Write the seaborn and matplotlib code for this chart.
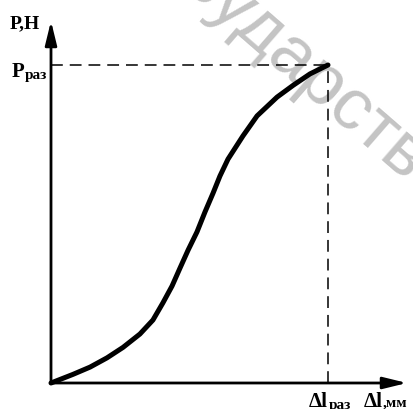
import matplotlib
matplotlib.use("Agg")
import matplotlib.pyplot as plt
import seaborn as sns

# Load–elongation curve up to rupture (normalised: rupture point at 1, 1)
elongation = [0.0, 0.079, 0.141, 0.202, 0.260, 0.321, 0.368, 0.404, 0.437,
              0.466, 0.495, 0.527, 0.556, 0.585, 0.610, 0.639, 0.693, 0.744,
              0.816, 0.874, 0.935, 1.0]
load = [0.0, 0.027, 0.050, 0.079, 0.112, 0.154, 0.198, 0.252, 0.305,
        0.362, 0.418, 0.475, 0.538, 0.597, 0.651, 0.704, 0.777, 0.840,
        0.899, 0.936, 0.972, 1.0]

rupture_x = 1.0
rupture_y = 1.0

y_label = "P,Н"
rupture_load_label = ("P", "раз")
rupture_elong_label = ("Δl", "раз")
x_label = ("Δl", ",мм")
watermark = "Государственный"

sns.set_style("white")
plt.rcParams["font.family"] = ["Liberation Serif", "DejaVu Serif"]
plt.rcParams["lines.scale_dashes"] = False

W, H = 414, 410
fig = plt.figure(figsize=(W / 100, H / 100), dpi=100)
ax = fig.add_axes([0, 0, 1, 1])

# pixel geometry of the frame
ox, oy = 51, 384          # origin
sx, sy = 277, 318         # pixels per unit
ax.set_xlim(-ox / sx, (W - ox) / sx)
ax.set_ylim((oy - H) / sy, oy / sy)
ax.axis("off")


def px(x, y):
    """Pixel position (from top-left) to data coordinates."""
    return (x - ox) / sx, (oy - y) / sy


# watermark
ax.text(*px(356, 117), watermark, fontsize=52, color="#c4c4c4",
        family=["Liberation Sans", "DejaVu Sans"], rotation=-41,
        rotation_mode="anchor", ha="center", va="center", zorder=0)

# axes with arrows
arrow = dict(arrowstyle="-|>,head_length=0.9,head_width=0.22", lw=2.0,
             color="black", mutation_scale=16, shrinkA=0, shrinkB=0)
ax.annotate("", xy=px(407, 384), xytext=(0, 0), arrowprops=arrow,
            annotation_clip=False, zorder=3)
ax.annotate("", xy=px(51, 22), xytext=(0, 0), arrowprops=arrow,
            annotation_clip=False, zorder=3)

# rupture guide lines
ax.plot([0, rupture_x], [rupture_y, rupture_y], color="black", lw=1.1,
        dashes=(8.5, 5), zorder=2)
ax.plot([rupture_x, rupture_x], [0, rupture_y], color="black", lw=1.1,
        dashes=(8.5, 5), zorder=2)

# main curve
sns.lineplot(x=elongation, y=load, ax=ax, color="black", lw=3.6,
             sort=False, estimator=None, zorder=4)
for line in ax.lines:
    line.set_clip_on(False)
    line.set_solid_capstyle("round")
    line.set_solid_joinstyle("round")

big = dict(fontsize=15, fontweight="bold", color="black")
mid = dict(fontsize=14, fontweight="bold", color="black")
small = dict(fontsize=11, fontweight="bold", color="black")

# y label
ax.text(*px(10, 28), y_label, ha="left", va="baseline", **mid)
# rupture load
ax.text(*px(12, 77), rupture_load_label[0], ha="left", va="baseline", **big)
ax.text(*px(25, 79), rupture_load_label[1], ha="left", va="baseline", **small)
# rupture elongation
ax.text(*px(309, 407), rupture_elong_label[0], ha="left", va="baseline", **big)
ax.text(*px(329, 409), rupture_elong_label[1], ha="left", va="baseline", **small)
# x label
ax.text(*px(364, 407), x_label[0], ha="left", va="baseline", **big)
ax.text(*px(383, 407), x_label[1], ha="left", va="baseline", **small)

fig.savefig("out.png", dpi=100)
